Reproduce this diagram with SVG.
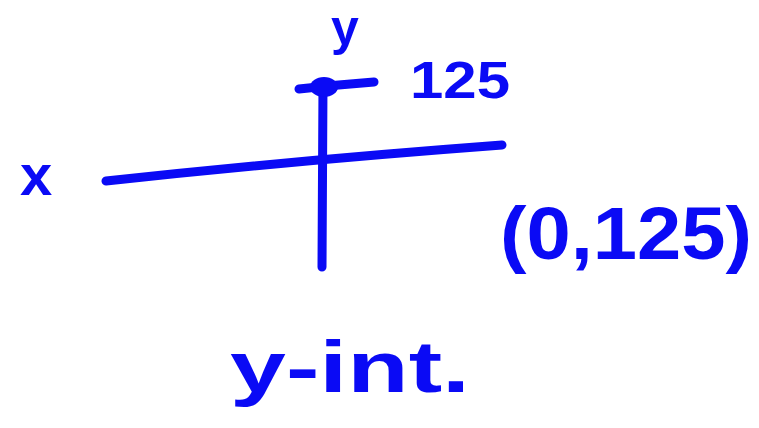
<svg xmlns="http://www.w3.org/2000/svg" width="759" height="428" viewBox="0 0 759 428">
<style>
.ink{fill:#0a0af5;font-family:"Liberation Sans","DejaVu Sans",sans-serif;font-weight:bold}
.ln{stroke:#0a0af5;stroke-width:9;stroke-linecap:round;fill:none}
</style>
<rect width="759" height="428" fill="#ffffff"/>
<g id="axes">
<path class="ln" d="M106 181 Q300 160 502 145"/>
<path class="ln" d="M323 84 L322 267"/>
<path class="ln" d="M299 89 Q335 85 374 82"/>
<ellipse cx="324" cy="87" rx="14" ry="10" fill="#0a0af5"/>
</g>
<g id="labels">
<text class="ink" x="20" y="195" font-size="58">x</text>
<text class="ink" x="331" y="45" font-size="50">y</text>
<text class="ink" x="410" y="98" font-size="52" textLength="100" lengthAdjust="spacingAndGlyphs">125</text>
<text class="ink" x="500" y="259" font-size="74" textLength="252" lengthAdjust="spacingAndGlyphs">(0,125)</text>
<text class="ink" x="230" y="392" font-size="72" textLength="240" lengthAdjust="spacingAndGlyphs">y-int.</text>
</g>
</svg>
